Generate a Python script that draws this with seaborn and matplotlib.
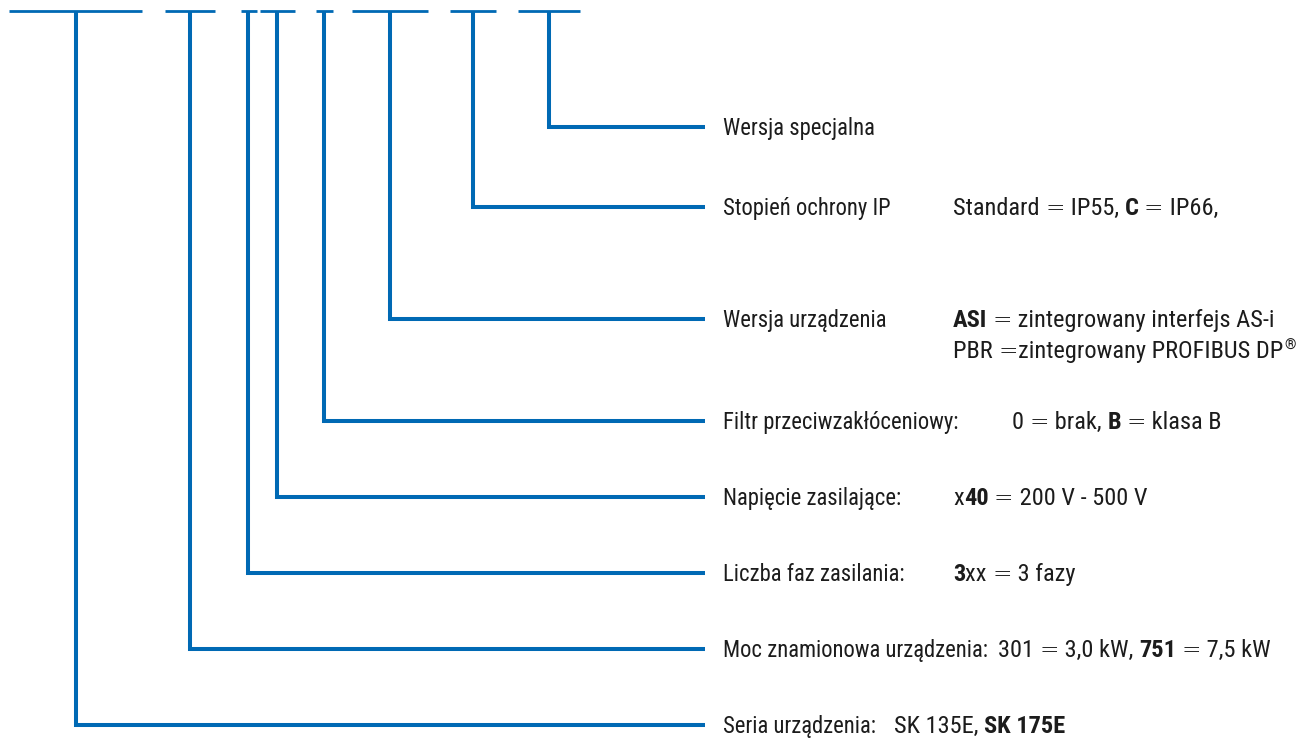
import matplotlib
matplotlib.use("Agg")
import matplotlib.pyplot as plt
from matplotlib import font_manager
import seaborn as sns
import pandas as pd

# ---------------- data ----------------
labels = [
    "Wersja specjalna",
    "Stopień ochrony IP",
    "Wersja urządzenia",
    "Filtr przeciwzakłóceniowy:",
    "Napięcie zasilające:",
    "Liczba faz zasilania:",
    "Moc znamionowa urządzenia:",
    "Seria urządzenia:",
]
# detail pieces: (text, style) style: 'n' normal, 'b' bold, 's' superscript
details = [
    [],
    [("Standard = IP55, ", "n"), ("C", "b"), (" = IP66,", "n")],
    [("ASI", "b"), (" = zintegrowany interfejs AS-i", "n")],
    [("0 = brak, ", "n"), ("B", "b"), (" = klasa B", "n")],
    [("x", "n"), ("40", "b"), (" = 200 V - 500 V", "n")],
    [("3", "b"), ("xx = 3 fazy", "n")],
    [("301 = 3,0 kW, ", "n"), ("751", "b"), (" = 7,5 kW", "n")],
    [("SK 135E, ", "n"), ("SK 175E", "b")],
]
detail2 = {2: [("PBR =zintegrowany PROFIBUS DP", "n"), ("®", "s")]}

# ---------------- layout ----------------
level_y = [127, 207, 319, 421, 497, 573, 649, 725]
stem_x = [549, 473, 390, 324, 277, 248, 190, 76]
top_seg = [(518, 580), (450, 496), (352, 428), (316, 333),
           (260, 295), (241, 257), (165, 215), (9, 142)]
top_y = 11
line_end = 705
text_x = 723
# fixed column (number) or gap after label (negative => flow with |gap| px)
detail_x = [None, 953, 953, 1012, 953, 953, -10, -18]

BLUE = "#0069B4"
TXT = "#1c1c1c"

sns.set_theme(style="white")
avail = {f.name for f in font_manager.fontManager.ttflist}
fam = None
for cand in ["Liberation Sans Narrow", "DejaVu Sans Condensed", "Roboto Condensed", "Liberation Sans"]:
    if cand in avail:
        fam = cand
        break
plt.rcParams["font.family"] = [fam, "DejaVu Sans"]

fig = plt.figure(figsize=(12.97, 7.40), dpi=100)
ax = fig.add_axes([0, 0, 1, 1])

# connector paths
rows = []
for i, (sx, ly) in enumerate(zip(stem_x, level_y)):
    rows += [(i, sx, top_y), (i, sx, ly), (i, line_end, ly)]
paths = pd.DataFrame(rows, columns=["id", "x", "y"])
sns.lineplot(data=paths, x="x", y="y", units="id", estimator=None, sort=False,
             color=BLUE, linewidth=2.9, ax=ax, legend=False,
             solid_capstyle="butt", solid_joinstyle="miter")

trows = []
for i, (a, b) in enumerate(top_seg):
    trows += [(i, a, top_y), (i, b, top_y)]
tops = pd.DataFrame(trows, columns=["id", "x", "y"])
sns.lineplot(data=tops, x="x", y="y", units="id", estimator=None, sort=False,
             color=BLUE, linewidth=2.0, ax=ax, legend=False, solid_capstyle="butt")

ax.set_xlim(0, 1297)
ax.set_ylim(740, 0)
ax.axis("off")

FS = 16.3
FSD = 17.6
renderer = fig.canvas.get_renderer()
inv = ax.transData.inverted()


def right_edge(t):
    bb = t.get_window_extent(renderer)
    return inv.transform((bb.x1, bb.y0))[0]


def draw_pieces(x, y, pieces):
    cur = x
    for txt, st in pieces:
        if st == "s":
            t = ax.text(cur + 1, y - 8, txt, fontsize=FSD * 0.6, color=TXT, va="baseline")
            cur = right_edge(t)
            continue
        parts = txt.split("=")
        for k, part in enumerate(parts):
            if k > 0:
                t = ax.text(cur, y, "=", fontsize=FSD * 0.95, color=TXT, va="baseline",
                            family="DejaVu Sans", fontweight="light")
                cur = right_edge(t)
            if part:
                t = ax.text(cur, y, part, fontsize=FSD, color=TXT, va="baseline",
                            fontweight="bold" if st == "b" else "normal")
                cur = right_edge(t)


for i, lab in enumerate(labels):
    base = level_y[i] + 8
    lt = ax.text(text_x, base, lab, fontsize=FS, color=TXT, va="baseline")
    if details[i]:
        dx = detail_x[i]
        if dx < 0:
            dx = right_edge(lt) - dx
        draw_pieces(dx, base, details[i])
        if i in detail2:
            draw_pieces(dx, base + 31, detail2[i])

fig.savefig("out.png", dpi=100)
